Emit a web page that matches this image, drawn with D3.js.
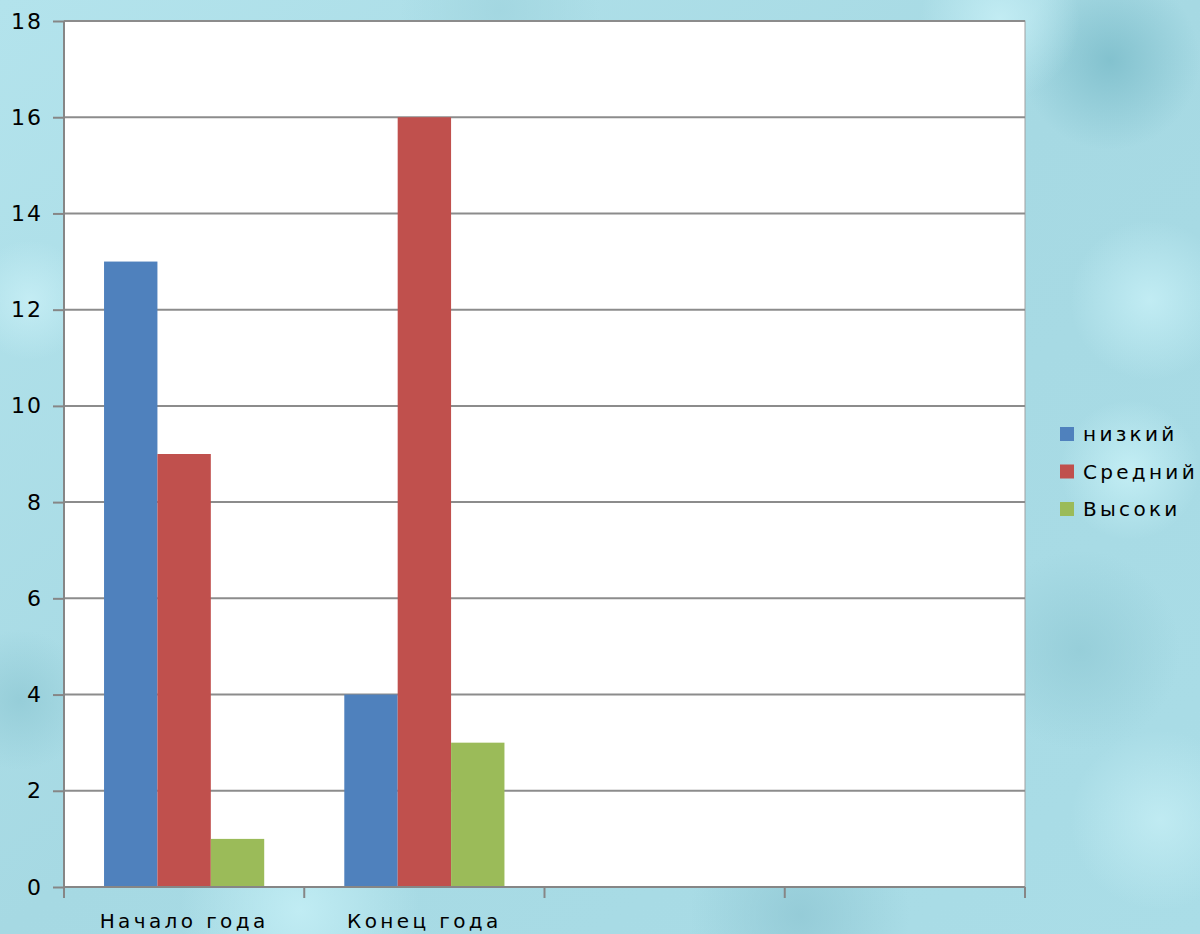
<!DOCTYPE html>
<html><head>
<meta charset="utf-8">
<script src="https://cdnjs.cloudflare.com/ajax/libs/d3/7.8.5/d3.min.js"></script>
<style>
  body { margin: 0; overflow: hidden; }
  text { font-family: "DejaVu Sans", sans-serif; fill: #000; }
  .axis-y text { font-size: 22px; letter-spacing: 2px; }
  .axis-x text { font-size: 20px; letter-spacing: 3.4px; }
  .legend text { font-size: 20px; letter-spacing: 3.3px; }
</style>
</head>
<body>
<script>
// data
var categories = ["Начало года", "Конец года", "", ""];
var seriesNames = ["низкий", "Средний", "Высоки"];
var seriesColors = ["#4f81bd", "#c0504d", "#9bbb59"];
var lowValues = [13, 4, null, null];
var midValues = [9, 16, null, null];
var highValues = [1, 3, null, null];
var yTicks = [0, 2, 4, 6, 8, 10, 12, 14, 16, 18];

var allSeries = [lowValues, midValues, highValues];

var W = 1200, H = 934;
var margin = {left: 64, top: 21, right: 175, bottom: 47};
var width = W - margin.left - margin.right,
    height = H - margin.top - margin.bottom;

var svg = d3.select("body").append("svg")
    .attr("width", W).attr("height", H);

// watery background
var defs = svg.append("defs");
var bg = defs.append("linearGradient").attr("id", "bg")
    .attr("x1", 0).attr("y1", 0).attr("x2", 1).attr("y2", 1);
bg.append("stop").attr("offset", "0%").attr("stop-color", "#b3e3ec");
bg.append("stop").attr("offset", "50%").attr("stop-color", "#a6d9e3");
bg.append("stop").attr("offset", "100%").attr("stop-color", "#aadde7");
svg.append("rect").attr("width", W).attr("height", H).attr("fill", "url(#bg)");

var blobs = [
  [1110, 60, 90, "#7fbfcc"], [1150, 300, 80, "#c4eef5"], [1080, 650, 100, "#95cdd8"],
  [1160, 820, 90, "#c2ecf3"], [30, 300, 60, "#c6eef5"], [20, 700, 70, "#94ccd7"],
  [300, 910, 120, "#c3eef5"], [800, 915, 110, "#93cad6"], [1000, 20, 80, "#c5eef5"],
  [500, 10, 100, "#a2d6e0"], [1130, 470, 70, "#c6f0f6"]
];
blobs.forEach(function(b, i) {
  var g = defs.append("radialGradient").attr("id", "blob" + i);
  g.append("stop").attr("offset", "0%").attr("stop-color", b[3]).attr("stop-opacity", 0.9);
  g.append("stop").attr("offset", "100%").attr("stop-color", b[3]).attr("stop-opacity", 0);
  svg.append("circle").attr("cx", b[0]).attr("cy", b[1]).attr("r", b[2])
      .attr("fill", "url(#blob" + i + ")");
});

var chart = svg.append("g").attr("transform", "translate(" + margin.left + "," + margin.top + ")");

chart.append("rect").attr("width", width).attr("height", height)
    .attr("fill", "#fff").attr("stroke", "#a0a0a0").attr("stroke-width", 1);

var x0 = d3.scaleBand().domain(d3.range(categories.length)).range([0, width]);
var bw = x0.bandwidth();
var x1 = d3.scaleBand().domain(d3.range(seriesNames.length)).range([bw / 6, bw * 5 / 6]);
var y = d3.scaleLinear().domain([0, 18]).range([height, 0]);

// gridlines
chart.append("g").selectAll("line").data(yTicks.filter(function(d) { return d > 0; }))
  .enter().append("line")
    .attr("x1", 0).attr("x2", width)
    .attr("y1", function(d) { return y(d); }).attr("y2", function(d) { return y(d); })
    .attr("stroke", "#8c8c8c").attr("stroke-width", 2);

// bars
allSeries.forEach(function(vals, s) {
  chart.append("g").selectAll("rect")
    .data(vals.map(function(v, i) { return {i: i, v: v}; }).filter(function(d) { return d.v != null; }))
    .enter().append("rect")
      .attr("x", function(d) { return x0(d.i) + x1(s); })
      .attr("width", x1.bandwidth())
      .attr("y", function(d) { return y(d.v); })
      .attr("height", function(d) { return height - y(d.v); })
      .attr("fill", seriesColors[s]);
});

// y axis
var yAxis = chart.append("g").attr("class", "axis-y")
    .call(d3.axisLeft(y).tickValues(yTicks).tickSize(11).tickPadding(10));
yAxis.selectAll("line, path").attr("stroke", "#868686").attr("stroke-width", 2);
yAxis.select("path").attr("d", "M0," + height + "V0");

// x axis
var xAxis = chart.append("g").attr("class", "axis-x")
    .attr("transform", "translate(0," + height + ")")
    .call(d3.axisBottom(x0).tickSize(0).tickPadding(27).tickFormat(function(i) { return categories[i]; }));
xAxis.select("path").attr("stroke", "#868686").attr("stroke-width", 2).attr("d", "M0,0H" + width);
xAxis.append("g").selectAll("line").data(d3.range(categories.length + 1))
  .enter().append("line")
    .attr("x1", function(i) { return i * bw; }).attr("x2", function(i) { return i * bw; })
    .attr("y1", 0).attr("y2", 11)
    .attr("stroke", "#868686").attr("stroke-width", 2);

// legend
var legend = svg.append("g").attr("class", "legend")
    .attr("transform", "translate(1060,427)");
seriesNames.forEach(function(name, i) {
  var g = legend.append("g").attr("transform", "translate(0," + (i * 37.5) + ")");
  g.append("rect").attr("width", 14).attr("height", 14).attr("fill", seriesColors[i]);
  g.append("text").attr("x", 23).attr("y", 14).text(name);
});
</script>
</body></html>
